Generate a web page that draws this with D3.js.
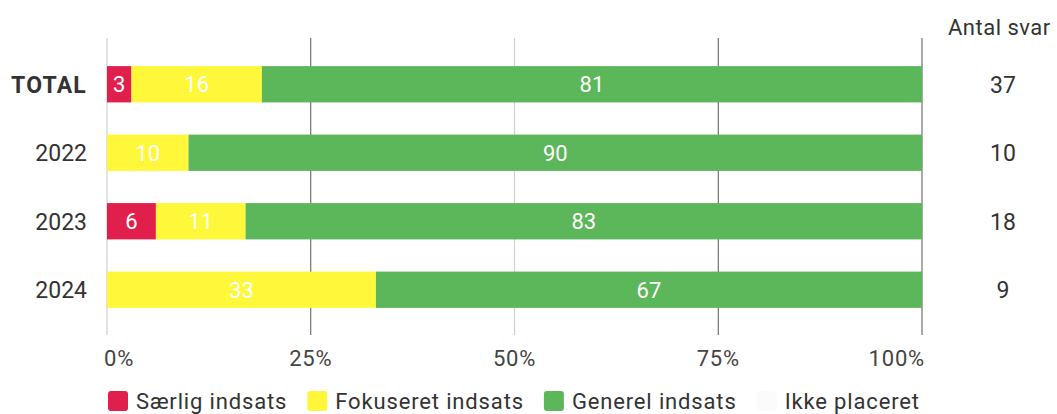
<!DOCTYPE html>
<html>
<head>
<meta charset="utf-8">
<script src="https://cdn.jsdelivr.net/npm/d3@7"></script>
<style>
  body { margin: 0; background: #fff; }
  text { font-family: Roboto, "Open Sans", sans-serif; }
</style>
</head>
<body>
<svg id="chart"></svg>
<script>
// Data
const categories = ['TOTAL', '2022', '2023', '2024'];
const seriesNames = ['Særlig indsats', 'Fokuseret indsats', 'Generel indsats', 'Ikke placeret'];
const saerlig = [3, 0, 6, 0];
const fokuseret = [16, 10, 11, 33];
const generel = [81, 90, 83, 67];
const ikkePlaceret = [0, 0, 0, 0];
const antalSvar = [37, 10, 18, 9];
const ticks = [0, 25, 50, 75, 100];
const tickLabels = ['0%', '25%', '50%', '75%', '100%'];

const colors = ['#e01f4c', '#fff73a', '#5cb65a', '#fbfbfb'];

const W = 1057, H = 414;
const svg = d3.select('#chart').attr('width', W).attr('height', H);

const x = d3.scaleLinear().domain([0, 100]).range([107, 922]);
const y = d3.scaleBand().domain(categories).range([49, 325])
  .paddingInner(0.47).paddingOuter(0.25);

// stacked rows built from the series arrays
const rows = categories.map((c, i) => ({
  cat: c, s0: saerlig[i], s1: fokuseret[i], s2: generel[i], s3: ikkePlaceret[i]
}));
const stack = d3.stack().keys(['s0', 's1', 's2', 's3'])(rows);

// gridlines
const gridColor = v => (v === 0 || v === 50) ? '#cfcfcf' : '#555';
svg.append('g').selectAll('line').data(ticks).join('line')
  .attr('x1', d => x(d)).attr('x2', d => x(d))
  .attr('y1', 38).attr('y2', 335)
  .attr('stroke', d => gridColor(d))
  .attr('stroke-width', d => (d === 0 || d === 50) ? 1.2 : 1);

// bars
const layers = svg.append('g').selectAll('g').data(stack).join('g')
  .attr('fill', (d, i) => colors[i]);
layers.selectAll('rect').data(d => d).join('rect')
  .attr('x', d => x(d[0]))
  .attr('width', d => x(d[1]) - x(d[0]))
  .attr('y', d => y(d.data.cat))
  .attr('height', y.bandwidth());

// segment labels
layers.selectAll('text').data(d => d.filter(s => s[1] - s[0] > 0)).join('text')
  .attr('x', d => (x(d[0]) + x(d[1])) / 2)
  .attr('y', d => y(d.data.cat) + y.bandwidth() / 2)
  .attr('dy', '0.36em')
  .attr('text-anchor', 'middle')
  .attr('fill', '#fff')
  .attr('font-size', 22)
  .text(d => d[1] - d[0]);

// category labels
svg.append('g').selectAll('text').data(categories).join('text')
  .attr('x', 87)
  .attr('y', d => y(d) + y.bandwidth() / 2)
  .attr('dy', '0.36em')
  .attr('text-anchor', 'end')
  .attr('font-size', 23)
  .attr('font-weight', d => d === 'TOTAL' ? 700 : 400)
  .attr('letter-spacing', d => d === 'TOTAL' ? 1.2 : 0)
  .attr('fill', '#333')
  .text(d => d);

// x tick labels
svg.append('g').selectAll('text').data(ticks).join('text')
  .attr('x', d => x(d))
  .attr('y', 366)
  .attr('text-anchor', (d, i) => i === 0 ? 'start' : i === ticks.length - 1 ? 'end' : 'middle')
  .attr('dx', (d, i) => i === 0 ? -3 : i === ticks.length - 1 ? 3 : 0)
  .attr('font-size', 22)
  .attr('letter-spacing', 0.8)
  .attr('fill', '#444')
  .text((d, i) => tickLabels[i]);

// right column: Antal svar
svg.append('text')
  .attr('x', 948).attr('y', 35)
  .attr('font-size', 22).attr('letter-spacing', 0.5).attr('fill', '#333')
  .text('Antal svar');
svg.append('g').selectAll('text').data(antalSvar).join('text')
  .attr('x', 1003)
  .attr('y', (d, i) => y(categories[i]) + y.bandwidth() / 2)
  .attr('dy', '0.36em')
  .attr('text-anchor', 'middle')
  .attr('font-size', 23)
  .attr('fill', '#333')
  .text(d => d);

// legend
const legend = svg.append('g');
let lx = 108;
seriesNames.forEach((name, i) => {
  const g = legend.append('g').attr('transform', `translate(${lx}, 391)`);
  g.append('rect').attr('width', 20).attr('height', 20).attr('rx', 3)
    .attr('fill', colors[i]);
  const t = g.append('text').attr('x', 28).attr('y', 18)
    .attr('font-size', 22).attr('letter-spacing', 0.85)
    .attr('fill', '#333').text(name);
  lx += 28 + t.node().getComputedTextLength() + 20;
});
</script>
</body>
</html>
